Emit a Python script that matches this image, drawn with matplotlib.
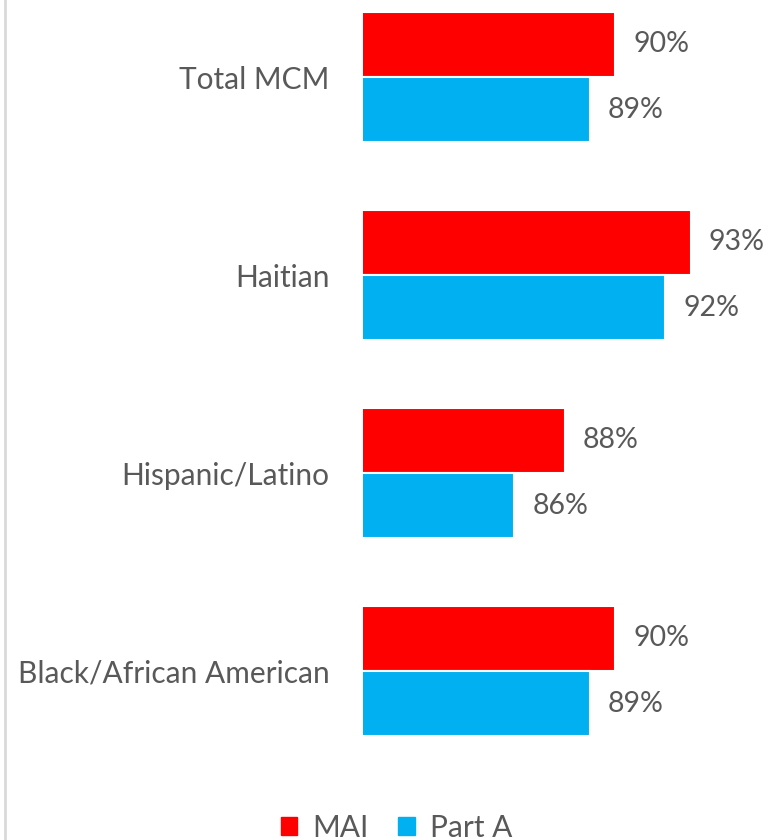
import numpy as np
import matplotlib
matplotlib.use("Agg")
import matplotlib.pyplot as plt
from matplotlib.lines import Line2D
from matplotlib.patches import Patch

plt.rcParams['font.family'] = ['Lato', 'DejaVu Sans']

# data
categories = ['Total MCM', 'Haitian', 'Hispanic/Latino', 'Black/African American']
mai = [0.90, 0.93, 0.88, 0.90]
part_a = [0.89, 0.92, 0.86, 0.89]

red = '#ff0000'
blue = '#00b0f0'
grey = '#595959'

fig = plt.figure(figsize=(7.68, 8.4), dpi=100)
ax = fig.add_axes([363 / 768, 1 - 740 / 840, 405 / 768, 740 / 840])

y = np.arange(len(categories))
h = 0.33
b1 = ax.barh(y - h / 2, mai, height=h, left=0, color=red, edgecolor='white', linewidth=1.5)
b2 = ax.barh(y + h / 2, part_a, height=h, left=0, color=blue, edgecolor='white', linewidth=1.5)

ax.bar_label(b1, labels=[f'{v*100:.0f}%' for v in mai], padding=13, fontsize=20.5, color=grey)
ax.bar_label(b2, labels=[f'{v*100:.0f}%' for v in part_a], padding=13, fontsize=20.5, color=grey)

ax.set_xlim(0.80, 0.80 + 405 / 25.2 / 100)
ax.set_ylim(3.348, -0.389)
ax.set_yticks(y)
ax.set_yticklabels(categories, fontsize=21.5, color=grey)
ax.tick_params(axis='y', length=0, pad=24)
ax.set_xticks([])
for s in ax.spines.values():
    s.set_visible(False)

# chart border on the left
fig.add_artist(Line2D([5 / 768, 5 / 768], [0, 1], color='#d9d9d9', lw=2))

handles = [Patch(color=red, label='MAI'), Patch(color=blue, label='Part A')]
fig.legend(handles=handles, loc='center', bbox_to_anchor=(0.516, 0.0 + 12 / 840),
           ncol=2, frameon=False, fontsize=21.5, labelcolor=grey,
           handlelength=0.55, handleheight=0.55, handletextpad=0.5, columnspacing=1.0)

fig.savefig('out.png', dpi=100)
